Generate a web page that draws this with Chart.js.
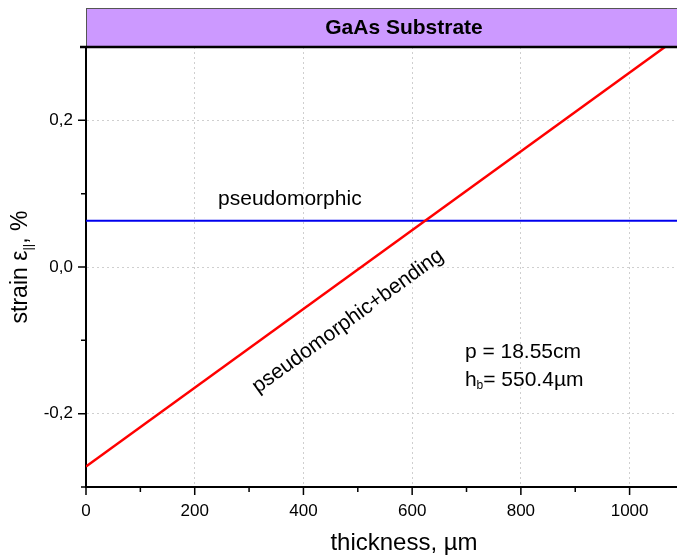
<html>
<head>
<style>
  html, body { margin: 0; padding: 0; background: #fff; overflow: hidden; }
  #wrap { width: 722px; height: 558px; }
</style>
</head>
<body>
<script src="https://cdn.jsdelivr.net/npm/chart.js@4/dist/chart.umd.min.js"></script>
<div id="wrap"><canvas id="myChart" width="722" height="558"></canvas></div>
<script>
// values
const bendThickness = [0, 1065];        // um
const bendStrain = [-0.272, 0.300];     // %
const pseudoThickness = [0, 1170];
const pseudoStrain = [0.063, 0.063];

const xMajor = [0, 200, 400, 600, 800, 1000];
const xMinor = [100, 300, 500, 700, 900, 1100];
const yMajor = [-0.2, 0, 0.2];
const yMinor = [-0.3, -0.1, 0.1, 0.3];

const xMin = 0, xMax = 1170;
const yMin = -0.3, yMax = 0.3;

// text labels placed in data units
const notes = [
  { text: 'pseudomorphic', x: 375, y: 0.093, align: 'center' },
  { text: 'p = 18.55cm', x: 697, y: -0.116, align: 'left' },
];
const bendLabel = { text: 'pseudomorphic+bending', x: 482, y: -0.074 };
const hbLabel = { x: 697, y: -0.154 };

const FONT = "'Liberation Sans', Arial, sans-serif";

let decor = {
  id: 'decor',
  afterDraw(chart) {
    const c = chart.ctx;
    const a = chart.chartArea;
    const xs = chart.scales.x, ys = chart.scales.y;
    c.save();

    // tick marks
    c.strokeStyle = '#000';
    c.lineWidth = 1.5;
    c.beginPath();
    xMajor.forEach(v => { let p = xs.getPixelForValue(v); c.moveTo(p, a.bottom); c.lineTo(p, a.bottom + 8); });
    xMinor.forEach(v => { let p = xs.getPixelForValue(v); c.moveTo(p, a.bottom); c.lineTo(p, a.bottom + 5); });
    yMajor.forEach(v => { let p = ys.getPixelForValue(v); c.moveTo(a.left, p); c.lineTo(a.left - 8, p); });
    yMinor.forEach(v => { let p = ys.getPixelForValue(v); c.moveTo(a.left, p); c.lineTo(a.left - 5, p); });
    c.stroke();

    // substrate band
    c.fillStyle = '#cc99ff';
    c.fillRect(a.left, 8, a.right - a.left, a.top - 8);
    c.strokeStyle = '#555';
    c.lineWidth = 1;
    c.strokeRect(a.left + 0.5, 8.5, a.right - a.left, a.top - 8);
    c.strokeStyle = '#000';
    c.lineWidth = 2.5;
    c.beginPath();
    c.moveTo(a.left - 6, a.top);
    c.lineTo(a.right, a.top);
    c.stroke();
    c.fillStyle = '#000';
    c.font = 'bold 21px ' + FONT;
    c.textAlign = 'center';
    c.textBaseline = 'middle';
    c.fillText('GaAs Substrate', (a.left + a.right) / 2, (8 + a.top) / 2 + 1);

    // annotations
    c.font = '21px ' + FONT;
    notes.forEach(n => {
      c.textAlign = n.align;
      c.fillText(n.text, xs.getPixelForValue(n.x), ys.getPixelForValue(n.y));
    });
    // h_b line with subscript
    let hx = xs.getPixelForValue(hbLabel.x), hy = ys.getPixelForValue(hbLabel.y);
    c.textAlign = 'left';
    c.fillText('h', hx, hy);
    let w = c.measureText('h').width;
    c.font = '12px ' + FONT;
    c.fillText('b', hx + w, hy + 6);
    w += c.measureText('b').width;
    c.font = '21px ' + FONT;
    c.fillText('= 550.4\u00b5m', hx + w, hy);

    // rotated label along the red line
    let p0x = xs.getPixelForValue(bendThickness[0]), p0y = ys.getPixelForValue(bendStrain[0]);
    let p1x = xs.getPixelForValue(bendThickness[1]), p1y = ys.getPixelForValue(bendStrain[1]);
    let ang = Math.atan2(p1y - p0y, p1x - p0x);
    c.translate(xs.getPixelForValue(bendLabel.x), ys.getPixelForValue(bendLabel.y));
    c.rotate(ang);
    c.textAlign = 'center';
    c.fillText(bendLabel.text, 0, 0);
    c.restore();

    // y axis title with subscript
    c.save();
    c.translate(21, (a.top + a.bottom) / 2);
    c.rotate(-Math.PI / 2);
    c.fillStyle = '#000';
    c.textBaseline = 'middle';
    c.textAlign = 'left';
    const big = '23px ' + FONT, small = '13px ' + FONT;
    c.font = big; let w1 = c.measureText('strain \u03b5').width;
    c.font = small; let w2 = c.measureText('||').width;
    c.font = big; let w3 = c.measureText(', %').width;
    let sx = -(w1 + w2 + w3) / 2;
    c.font = big; c.fillText('strain \u03b5', sx, 0);
    c.font = small; c.fillText('||', sx + w1, 7);
    c.font = big; c.fillText(', %', sx + w1 + w2, 0);
    c.restore();
  }
};

let ctx = document.getElementById('myChart').getContext('2d');
let myChart = new Chart(ctx, {
  type: 'scatter',
  data: {
    datasets: [{
      label: 'pseudomorphic+bending',
      data: bendThickness.map((t, i) => ({ x: t, y: bendStrain[i] })),
      showLine: true,
      borderColor: '#ff0000',
      borderWidth: 2.5,
      pointRadius: 0,
    },
    {
      label: 'pseudomorphic',
      data: pseudoThickness.map((t, i) => ({ x: t, y: pseudoStrain[i] })),
      showLine: true,
      borderColor: '#0000ee',
      borderWidth: 2,
      pointRadius: 0,
    }]
  },
  options: {
    responsive: false,
    animation: false,
    devicePixelRatio: 1,
    layout: { padding: { top: 47, right: 0, left: 0, bottom: 0 } },
    plugins: { legend: { display: false }, tooltip: { enabled: false } },
    scales: {
      x: {
        type: 'linear',
        min: xMin, max: xMax,
        afterBuildTicks: s => { s.ticks = xMajor.map(v => ({ value: v })); },
        afterFit: s => { s.height = 71; },
        grid: { color: '#cfcfcf', lineWidth: 1, drawTicks: false },
        border: { color: '#000', width: 2, dash: [2, 3] },
        ticks: { color: '#000', padding: 14, font: { family: FONT, size: 17 }, maxRotation: 0, callback: v => String(v) },
        title: { display: true, text: 'thickness, \u00b5m', color: '#000', font: { family: FONT, size: 24 }, padding: { top: 0, bottom: 0 } }
      },
      y: {
        type: 'linear',
        min: yMin, max: yMax,
        afterBuildTicks: s => { s.ticks = yMajor.map(v => ({ value: v })); },
        afterFit: s => { s.width = 86; },
        grid: { color: '#cfcfcf', lineWidth: 1, drawTicks: false },
        border: { color: '#000', width: 2, dash: [2, 3] },
        ticks: {
          color: '#000', padding: 13, font: { family: FONT, size: 17 },
          callback: v => v.toFixed(1).replace('.', ',')
        }
      }
    }
  },
  plugins: [decor]
});
</script>
</body>
</html>
